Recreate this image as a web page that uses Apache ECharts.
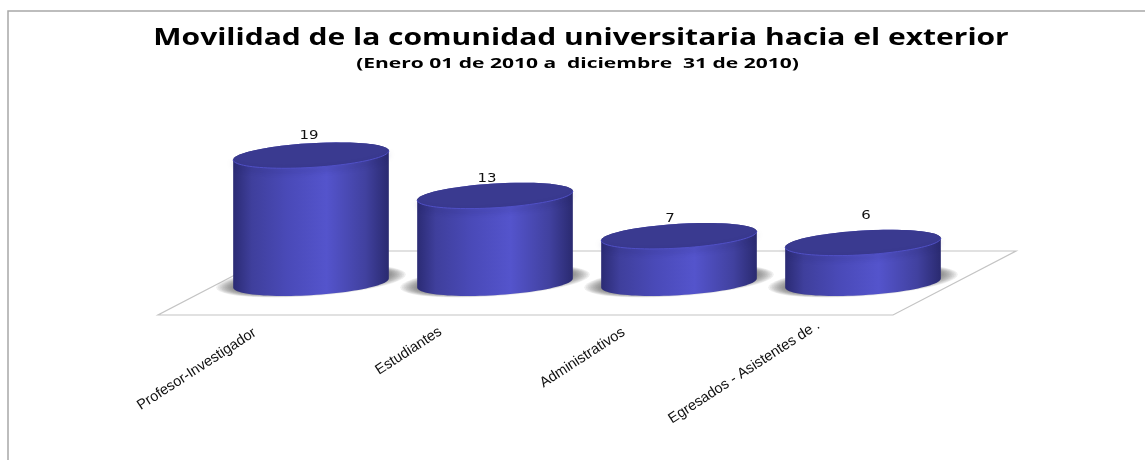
<!DOCTYPE html>
<html><head><meta charset="utf-8">
<script src="https://cdn.jsdelivr.net/npm/echarts@6/dist/echarts.min.js"></script>
<style>html,body{margin:0;padding:0;background:#fff}#c{width:1145px;height:460px}</style>
</head><body><div id="c"></div>
<script>
const titleText = 'Movilidad de la comunidad universitaria hacia el exterior';
const subtitleText = '(Enero 01 de 2010 a  diciembre  31 de 2010)';
const categories = ['Profesor-Investigador', 'Estudiantes', 'Administrativos', 'Egresados - Asistentes de .'];
const values = [19, 13, 7, 6];
const labelNudgeX = [-2, -8, -9, 3];
const labelNudgeY = [0, 3, 3, -7];
const categoryLabelPad = [67, 65, 66, 53];

const chart = echarts.init(document.getElementById('c'), null, {renderer: 'canvas'});
const R = 0.423, B = 0.066, T = 0.0245;

function arc(cx, cy, a, b, tilt, t0, t1) {
  const pts = [];
  const n = 48;
  for (let i = 0; i <= n; i++) {
    const t = t0 + (t1 - t0) * i / n;
    pts.push([cx + a * Math.cos(t), cy + b * Math.sin(t) - tilt * Math.cos(t)]);
  }
  return pts;
}

function renderCylinder(params, api) {
  const idx = api.value(0);
  const top = api.coord([idx, api.value(1)]);
  const base = api.coord([idx, 0]);
  const band = api.size([1, 0])[0];
  const a = band * R, b = band * B, tilt = band * T;
  const cx = top[0];
  const bodyFill = new echarts.graphic.LinearGradient(0, 0, 1, 0, [
    {offset: 0, color: '#2b2b74'},
    {offset: 0.12, color: '#3f3f9c'},
    {offset: 0.35, color: '#4a4ab8'},
    {offset: 0.6, color: '#5454cc'},
    {offset: 0.85, color: '#41419f'},
    {offset: 1, color: '#2a2a70'}
  ]);
  const lower = arc(cx, base[1], a, b, tilt, 0, Math.PI);
  const upper = arc(cx, top[1], a, b, tilt, Math.PI, 2 * Math.PI);
  const glow = [];
  for (let k = 0; k < 10; k++) {
    glow.push({type: 'polygon',
      shape: {points: arc(cx, base[1] - 2, a + 17 - 1.7 * k, b + 3 - 0.4 * k, tilt + 2, 0, 2 * Math.PI)},
      style: {fill: 'rgba(80,80,80,0.085)'}});
  }
  return {
    type: 'group',
    children: glow.concat([
      {type: 'polygon', shape: {points: lower.concat(upper)}, style: {fill: bodyFill}},
      {type: 'polygon', shape: {points: arc(cx, top[1], a, b, tilt, 0, 2 * Math.PI)},
        style: {fill: '#3a3a90'}},
      {type: 'polyline', shape: {points: arc(cx, top[1], a, b, tilt, 0, Math.PI)},
        style: {fill: 'none', stroke: '#5050c6', lineWidth: 1, shadowBlur: 5, shadowOffsetY: 3, shadowColor: 'rgba(30,30,90,0.55)'}},
      {type: 'text', x: cx + labelNudgeX[idx], y: top[1] - 20 + labelNudgeY[idx],
        scaleX: 1.15, z2: 10,
        style: {text: String(api.value(1)), fill: '#111', font: '13px "DejaVu Sans"', align: 'center', verticalAlign: 'middle'}}
    ])
  };
}

chart.setOption({
  animation: false,
  backgroundColor: '#fff',
  grid: {left: 219, width: 736, top: 148.6, height: 134.4},
  xAxis: {
    type: 'category',
    data: categories.map((c, i) => ({value: c, textStyle: {padding: [0, categoryLabelPad[i], 0, 0]}})),
    axisLine: {show: false}, axisTick: {show: false},
    axisLabel: {rotate: 33, interval: 0, margin: 12, fontFamily: 'Liberation Sans', fontSize: 14.5, color: '#111'}
  },
  yAxis: {type: 'value', min: 0, max: 20, show: false},
  graphic: [
    {type: 'polyline', z: 0, shape: {points: [[8, 460], [8, 11], [1145, 11]]}, style: {fill: 'none', stroke: '#a8a8a8', lineWidth: 1.5}},
    {type: 'polygon', z: 0, shape: {points: [[158, 315], [893, 315], [1016, 251], [281, 251]]},
      style: {fill: '#fff', stroke: '#c4c4c4', lineWidth: 1.2}},
    {type: 'text', z: 3, x: 581, y: 38, scaleX: 1.25,
      style: {text: titleText, fill: '#000', font: 'bold 24px "Open Sans"', align: 'center', verticalAlign: 'middle'}},
    {type: 'text', z: 3, x: 577.5, y: 64, scaleX: 1.4,
      style: {text: subtitleText, fill: '#000', font: 'bold 15px "Open Sans"', align: 'center', verticalAlign: 'middle'}}
  ],
  series: [{
    type: 'custom', z: 5, clip: false,
    encode: {x: 0, y: 1},
    data: values.map((v, i) => [i, v]),
    renderItem: renderCylinder
  }]
});
</script></body></html>
